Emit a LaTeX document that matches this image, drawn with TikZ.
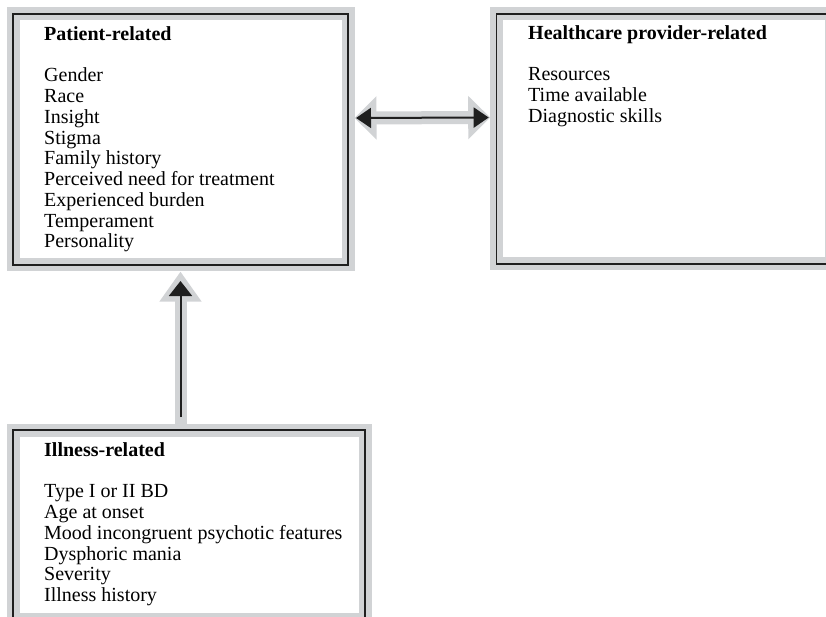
\documentclass[tikz,border=0pt]{standalone}
\usepackage{fontspec}
\setmainfont{Liberation Serif}
\usetikzlibrary{arrows.meta,calc}
\definecolor{FrameClr}{rgb}{0.82,0.827,0.835}
\definecolor{LineClr}{rgb}{0.12,0.12,0.12}

\begin{document}
\begin{tikzpicture}[x=1pt,y=-1pt,
  framebox/.style={draw=LineClr,line width=1.5pt,
    preaction={draw=FrameClr,line width=13pt},outer sep=6.5pt,inner sep=0pt},
  listtext/.style={anchor=base west,align=left,inner sep=0pt,
    font=\fontsize{20}{20.75}\selectfont},
  wideshaft/.style={draw=FrameClr,line width=13pt},
  thinshaft/.style={draw=LineClr,line width=2pt},
  GrayTip/.tip={Triangle[length=22pt,width=42pt]},
  BlackTip/.tip={Triangle[length=15pt,width=20pt]},
  GrayUpTip/.tip={Triangle[length=30pt,width=40pt]},
  BlackUpTip/.tip={Triangle[length=15pt,width=23pt]}]

\clip (0,0) rectangle (826,617);

\node[framebox,minimum width=335pt,minimum height=251pt] (pat) at (180.5,139.5) {};
\node[framebox,minimum width=335pt,minimum height=250pt] (hcp) at (664.2,139) {};
\node[framebox,minimum width=352pt,minimum height=189pt] (ill) at (189,524.5) {};

\node[listtext] (pattxt) at ($(pat.north west)+(37.5,240.5)$)
  {\textbf{Patient-related}\\[20.75pt]Gender\\Race\\Insight\\Stigma\\Family history\\
   Perceived need for treatment\\Experienced burden\\Temperament\\Personality};
\node[listtext] (hcptxt) at ($(hcp.north west)+(37.8,115)$)
  {\textbf{Healthcare provider-related}\\[20.75pt]Resources\\Time available\\Diagnostic skills};
\node[listtext] (illtxt) at ($(ill.north west)+(37.5,178)$)
  {\textbf{Illness-related}\\[20.75pt]Type I or II BD\\Age at onset\\
   Mood incongruent psychotic features\\Dysphoric mania\\Severity\\Illness history};

\draw[wideshaft,GrayTip-GrayTip] ([yshift=21.5pt]pat.east) -- ([yshift=21.5pt]hcp.west);
\draw[thinshaft,BlackTip-BlackTip,shorten <=1.5pt,shorten >=1.5pt]
  ([yshift=21.5pt]pat.east) -- ([yshift=21.5pt]hcp.west);

\draw[wideshaft,line width=12pt,-GrayUpTip] (ill.north -| pat.south) -- (pat.south);
\draw[thinshaft,-BlackUpTip,shorten <=6.5pt,shorten >=9.5pt] (ill.north -| pat.south) -- (pat.south);

\end{tikzpicture}
\end{document}
